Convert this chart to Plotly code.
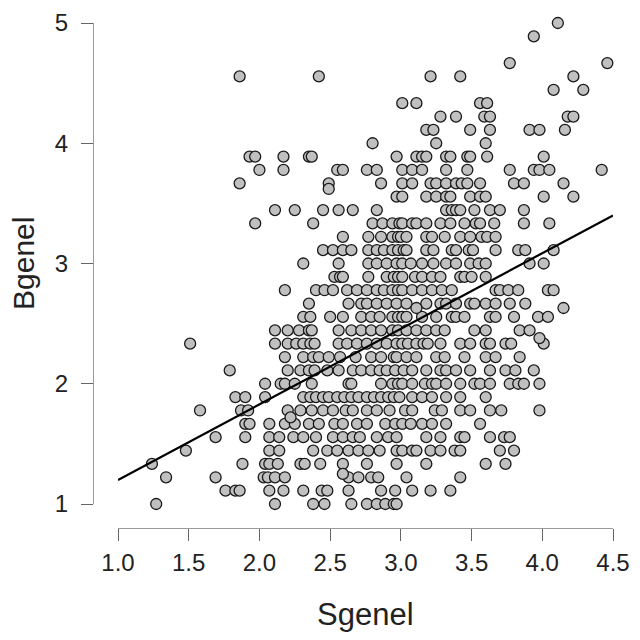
import plotly.graph_objects as go

# Bgenel takes values on a 1/9 grid; Sgenel values listed for each Bgenel level
bgenel_levels = [1 + k / 9 for k in range(37)]

sgenel_by_level = [
    [1.27, 2.11, 2.38, 2.46, 2.65, 2.76, 2.83, 2.89, 2.95, 2.97],  # 1.000
    [1.76, 1.83, 1.86, 2.07, 2.17, 2.31, 2.44, 2.48, 2.63, 2.86, 2.96, 3.08, 3.21, 3.35],
    [1.34, 1.69, 2.03, 2.06, 2.11, 2.18, 2.63, 2.70, 2.79, 2.84, 3.04, 3.42],
    [1.24, 1.88, 2.04, 2.07, 2.13, 2.29, 2.32, 2.43, 2.59, 2.76, 2.97, 3.18, 3.60, 3.74],
    [1.48, 2.07, 2.14, 2.38, 2.48, 2.55, 2.63, 2.70, 2.77, 2.85, 2.97, 3.01, 3.08, 3.11,
     3.21, 3.28, 3.38, 3.42, 3.70, 3.80],
    [1.69, 1.90, 2.07, 2.14, 2.24, 2.31, 2.40, 2.52, 2.59, 2.66, 2.71, 2.83, 2.91, 2.97,
     3.18, 3.28, 3.42, 3.45, 3.63, 3.73, 3.77],
    [1.90, 1.93, 2.07, 2.18, 2.25, 2.35, 2.42, 2.53, 2.59, 2.69, 2.76, 2.89, 2.96, 3.01,
     3.07, 3.15, 3.22, 3.32, 3.56],
    [1.58, 1.87, 1.92, 2.20, 2.29, 2.37, 2.45, 2.52, 2.61, 2.66, 2.76, 2.83, 2.92, 3.03,
     3.08, 3.24, 3.29, 3.42, 3.49, 3.63, 3.71, 3.98],
    [1.83, 1.90, 2.04, 2.31, 2.36, 2.40, 2.45, 2.49, 2.55, 2.60, 2.65, 2.70, 2.76, 2.81,
     2.86, 2.91, 2.95, 2.99, 3.08, 3.15, 3.22, 3.32, 3.42, 3.60],
    [2.04, 2.15, 2.18, 2.25, 2.37, 2.63, 2.65, 2.86, 2.94, 2.98, 3.01, 3.08, 3.17, 3.22,
     3.25, 3.32, 3.42, 3.52, 3.56, 3.63, 3.77, 3.83, 3.87, 3.98],  # 2.000
    [1.79, 2.20, 2.29, 2.35, 2.39, 2.48, 2.56, 2.66, 2.72, 2.79, 2.85, 2.90, 2.96, 3.02,
     3.08, 3.18, 3.28, 3.32, 3.39, 3.49, 3.63, 3.74, 3.81, 3.94],
    [2.18, 2.31, 2.38, 2.42, 2.49, 2.57, 2.68, 2.79, 2.86, 2.95, 2.97, 3.04, 3.11, 3.25,
     3.31, 3.45, 3.60, 3.67, 3.84],
    [1.51, 2.11, 2.20, 2.26, 2.31, 2.36, 2.39, 2.56, 2.62, 2.69, 2.76, 2.83, 2.90, 2.97,
     3.01, 3.05, 3.11, 3.16, 3.19, 3.28, 3.42, 3.49, 3.60, 3.63, 3.74, 3.78, 4.01],
    [2.11, 2.20, 2.28, 2.35, 2.37, 2.56, 2.65, 2.72, 2.79, 2.86, 2.94, 2.98, 3.04, 3.11,
     3.18, 3.25, 3.31, 3.52, 3.60, 3.84, 3.91],
    [2.31, 2.36, 2.50, 2.59, 2.72, 2.79, 2.85, 2.94, 2.98, 3.01, 3.04, 3.15, 3.25, 3.36,
     3.39, 3.45, 3.63, 3.67, 3.80, 3.97, 4.04],
    [2.35, 2.63, 2.72, 2.76, 2.83, 2.90, 2.97, 3.04, 3.18, 3.28, 3.32, 3.39, 3.49, 3.52,
     3.60, 3.67, 3.77, 3.88],
    [2.18, 2.40, 2.46, 2.52, 2.62, 2.69, 2.76, 2.83, 2.88, 2.94, 2.98, 3.01, 3.08, 3.15,
     3.22, 3.29, 3.36, 3.67, 3.70, 3.76, 3.83, 4.04, 4.08],
    [2.53, 2.57, 2.59, 2.77, 2.90, 2.95, 2.98, 3.01, 3.10, 3.15, 3.22, 3.28, 3.42, 3.45,
     3.50, 3.60],
    [2.31, 2.56, 2.77, 2.83, 2.90, 2.97, 3.01, 3.07, 3.15, 3.23, 3.32, 3.39, 3.49, 3.55,
     3.60, 3.91, 4.01],  # 3.000
    [2.45, 2.52, 2.59, 2.65, 2.77, 2.83, 2.88, 2.94, 2.98, 3.02, 3.04, 3.18, 3.23, 3.36,
     3.39, 3.48, 3.51, 3.67, 3.83, 3.88, 4.08],
    [2.59, 2.77, 2.86, 2.94, 2.98, 3.00, 3.04, 3.18, 3.22, 3.31, 3.42, 3.49, 3.57, 3.61, 3.67],
    [1.97, 2.38, 2.80, 2.87, 2.94, 2.99, 3.01, 3.08, 3.11, 3.18, 3.28, 3.35, 3.45, 3.53,
     3.56, 3.66, 3.87, 4.05],
    [2.11, 2.25, 2.45, 2.56, 2.66, 2.83, 3.32, 3.36, 3.39, 3.42, 3.52, 3.63, 3.70, 3.87],
    [2.97, 3.01, 3.18, 3.25, 3.32, 3.35, 3.49, 3.56, 3.60, 4.01, 4.22],
    [1.86, 2.49, 2.86, 3.01, 3.08, 3.21, 3.25, 3.32, 3.39, 3.43, 3.47, 3.56, 3.80, 3.87, 4.15],
    [2.00, 2.17, 2.55, 2.59, 2.76, 2.83, 3.01, 3.08, 3.15, 3.32, 3.47, 3.77, 3.94, 3.98,
     4.05, 4.42],
    [1.93, 1.97, 2.17, 2.35, 2.37, 2.97, 3.11, 3.15, 3.18, 3.32, 3.35, 3.47, 3.49, 3.61, 4.01],
    [2.80, 3.25, 3.60],  # 4.000
    [3.18, 3.23, 3.49, 3.63, 3.91, 3.98, 4.16],
    [3.28, 3.39, 3.59, 3.63, 4.18, 4.22],
    [3.01, 3.11, 3.56, 3.61],
    [4.08, 4.29],
    [1.86, 2.42, 3.21, 3.42, 4.22],
    [3.77, 4.46],
    [],
    [3.94],
    [4.11],  # 5.000
]

# a few points that sit between grid levels
extra_sgenel = [2.59, 2.22, 3.98, 3.11, 4.15, 2.49]
extra_bgenel = [1.25, 1.72, 2.38, 2.63, 2.63, 3.62]

# fitted line
fit_sgenel = [1.0, 4.5]
fit_bgenel = [1.20, 3.40]

x_ticks = [1.0, 1.5, 2.0, 2.5, 3.0, 3.5, 4.0, 4.5]
y_ticks = [1, 2, 3, 4, 5]

sgenel = []
bgenel = []
for level, row in zip(bgenel_levels, sgenel_by_level):
    sgenel += row
    bgenel += [level] * len(row)
sgenel += extra_sgenel
bgenel += extra_bgenel

W = 640
OFF = 8  # page body margin in the browser
font = "Liberation Sans, Arial, sans-serif"


def fx(p):
    return (p - OFF) / W


def fy(p):
    return (W - (p - OFF)) / W


fig = go.Figure()
fig.add_trace(go.Scatter(
    x=sgenel, y=bgenel, mode="markers",
    marker=dict(size=11, color="#c0c0c0", line=dict(color="#1a1a1a", width=1.3)),
    cliponaxis=False, hoverinfo="skip",
))
fig.add_trace(go.Scatter(
    x=fit_sgenel, y=fit_bgenel, mode="lines",
    line=dict(color="black", width=2.2), hoverinfo="skip",
))

axis_common = dict(
    showgrid=False, zeroline=False, showline=True, linecolor="#9a9a9a", linewidth=1,
    ticks="outside", ticklen=12, tickwidth=1, tickcolor="#666666",
    tickfont=dict(family=font, size=24, color="#222222"),
    anchor="free", automargin=False,
)

fig.update_layout(
    width=W, height=W, autosize=False, showlegend=False,
    margin=dict(l=0, r=0, t=0, b=0, pad=0, autoexpand=False),
    paper_bgcolor="white", plot_bgcolor="white",
    xaxis=dict(axis_common, domain=[fx(118), fx(613)], range=[1, 4.5],
               tickvals=x_ticks, tickformat=".1f", position=fy(528),
               ticklabelstandoff=1),
    yaxis=dict(axis_common, domain=[fy(504), fy(23)], range=[1, 5],
               tickvals=y_ticks, position=fx(93), ticklabelstandoff=8),
    annotations=[
        dict(text="Sgenel", x=fx(365.5), y=fy(614), xref="paper", yref="paper",
             showarrow=False, xanchor="center", yanchor="middle",
             font=dict(family=font, size=31, color="#222222")),
        dict(text="Bgenel", x=fx(23), y=fy(264), xref="paper", yref="paper",
             showarrow=False, xanchor="center", yanchor="middle", textangle=-90,
             font=dict(family=font, size=30, color="#222222")),
    ],
)

fig.write_html("out.html")
